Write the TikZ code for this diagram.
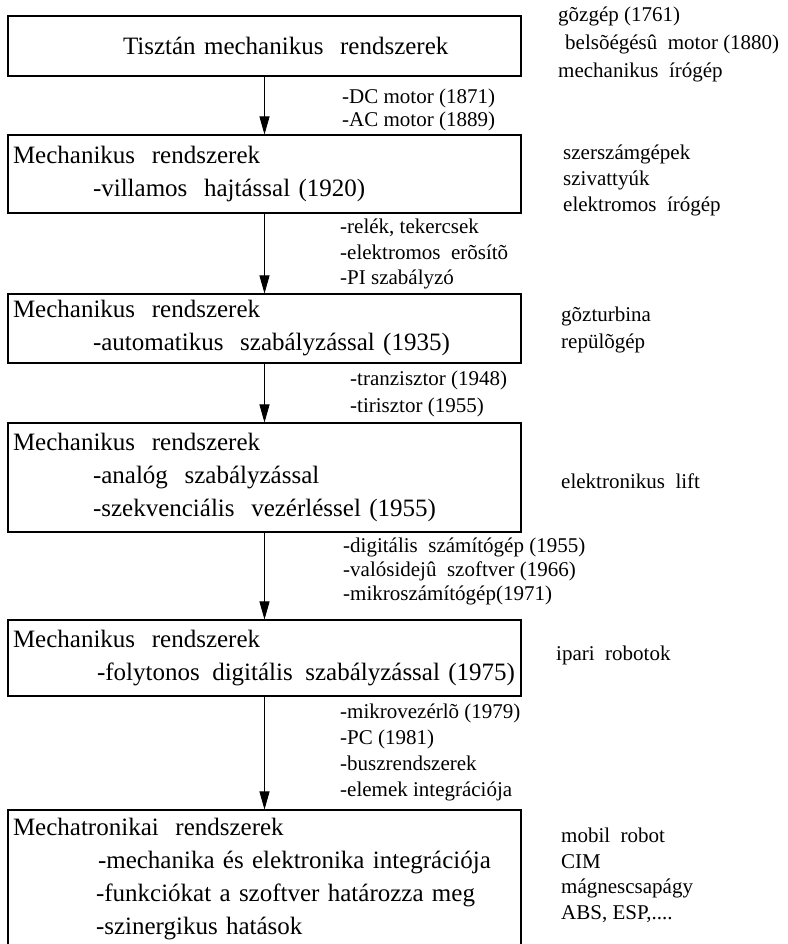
\documentclass[tikz,border=0pt]{standalone}
\usepackage{fontspec}
\setmainfont{Liberation Serif}
\usepackage{tikz}
\usetikzlibrary{positioning,arrows.meta}
\tikzset{stage/.style = {draw,line width=1.1pt,minimum width=513pt,text width=503pt,align=left,inner sep=5pt,font=\fontsize{25}{33}\selectfont},
         note/.style = {anchor=west,align=left,inner sep=0pt,font=\fontsize{21}{25.5}\selectfont},
         flow/.style = {line width=0.9pt,-{Triangle[width=10pt,length=18pt]}}}

\begin{document}
\begin{tikzpicture}[x=1pt,y=-1pt]
        \useasboundingbox (0,0) rectangle (787,944);
        \node [stage,minimum height=60pt] (b1) at (264.5,46) {\hspace*{110pt}Tisztán mechanikus~ rendszerek};
        \node [stage,minimum height=78pt] (b2) at (264.5,174) {Mechanikus~ rendszerek\\\hspace*{80pt}-villamos~ hajtással (1920)};
        \node [stage,minimum height=69pt] (b3) at (264.5,328.5) {Mechanikus~ rendszerek\\\hspace*{80pt}-automatikus~ szabályzással (1935)};
        \node [stage,minimum height=109pt] (b4) at (264.5,477.5) {Mechanikus~ rendszerek\\\hspace*{80pt}-analóg~ szabályzással\\\hspace*{80pt}-szekvenciális~ vezérléssel (1955)};
        \node [stage,minimum height=76pt] (b5) at (264.5,658) {Mechanikus~ rendszerek\\\hspace*{84pt}\mbox{-folytonos\,\ digitális\,\ szabályzással (1975)}};
        \node [stage,minimum height=138pt] (b6) at (264.5,879) {Mechatronikai~ rendszerek\\\hspace*{85pt}-mechanika és elektronika integrációja\\\hspace*{83pt}-funkciókat a szoftver határozza meg\\\hspace*{83pt}-szinergikus hatások};
        \draw [flow] (b1.south) -- (b2.north);
        \draw [flow] (b2.south) -- (b3.north);
        \draw [flow] (b3.south) -- (b4.north);
        \draw [flow] (b4.south) -- (b5.north);
        \draw [flow] (b5.south) -- (b6.north);
        \node [note,font=\fontsize{21}{23}\selectfont] (a1) at (342,109.5) {-DC motor (1871)\\-AC motor (1889)};
        \node [note] (a2) at (340,254) {-relék, tekercsek\\-elektromos~ erõsítõ\\-PI szabályzó};
        \node [note,font=\fontsize{21}{27}\selectfont] (a3) at (350,393.5) {-tranzisztor (1948)\\-tirisztor (1955)};
        \node [note,font=\fontsize{21}{24}\selectfont] (a4) at (343,571) {-digitális~ számítógép (1955)\\-valósidejû~ szoftver (1966)\\-mikroszámítógép(1971)};
        \node [note,font=\fontsize{21}{26}\selectfont] (a5) at (340,752) {-mikrovezérlõ (1979)\\-PC (1981)\\-buszrendszerek\\-elemek integrációja};
        \node [note,font=\fontsize{21}{28}\selectfont] (r1) at (558,44) {gõzgép (1761)\\\hspace*{7pt}belsõégésû~ motor (1880)\\mechanikus~ írógép};
        \node [note,font=\fontsize{21}{26}\selectfont] (r2) at (563,180) {szerszámgépek\\szivattyúk\\elektromos~ írógép};
        \node [note,font=\fontsize{21}{27}\selectfont] (r3) at (561,329.5) {gõzturbina\\repülõgép};
        \node [note] (r4) at (561,481) {elektronikus~ lift};
        \node [note] (r5) at (556,655) {ipari~ robotok};
        \node [note] (r6) at (561,875.5) {mobil~ robot\\CIM\\mágnescsapágy\\ABS, ESP,....};
    \end{tikzpicture}
\end{document}
